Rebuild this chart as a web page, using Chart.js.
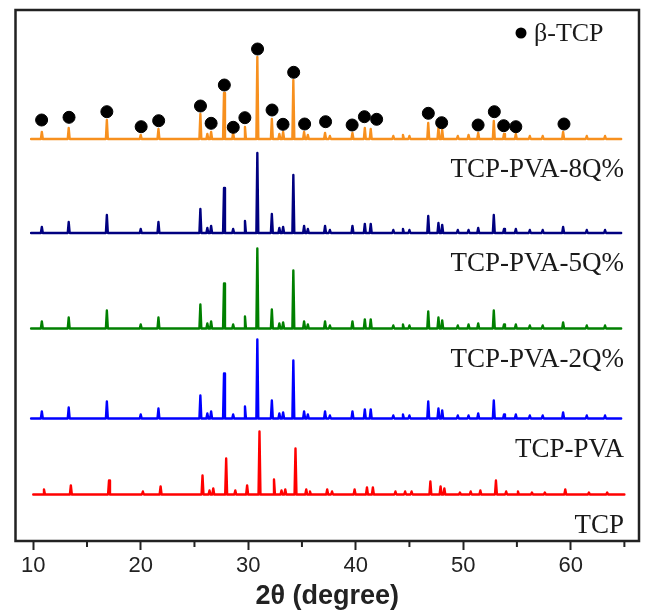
<!DOCTYPE html>
<html>
<head>
<meta charset="utf-8">
<title>XRD TCP-PVA</title>
<script src="https://cdn.jsdelivr.net/npm/chart.js@4.4.0/dist/chart.umd.min.js"></script>
<style>
    html, body { margin: 0; padding: 0; background: #ffffff; }
    canvas { display: block; }
</style>
</head>
<body>
<canvas id="xrdChart" width="646" height="615"></canvas>
<script>
const peakPos = [10.8, 13.3, 16.85, 20.0, 21.65, 25.55, 26.2, 26.55, 27.75, 28.6,
    29.7, 30.85, 32.2, 32.9, 33.25, 34.2, 35.2, 35.55, 37.15, 37.6,
    39.7, 40.85, 41.4, 43.5, 44.4, 45.0, 46.75, 47.7, 48.05, 49.5,
    50.5, 51.4, 52.85, 53.8, 54.9, 56.2, 57.4, 59.3, 61.5, 63.2];

// El TCP puro aparece algo desplazado hacia la derecha
const tcpPeakPos = [11.0, 13.5, 17.05, 20.2, 21.85, 25.75, 26.4, 26.75, 27.95, 28.8,
    29.9, 31.05, 32.4, 33.1, 33.45, 34.4, 35.4, 35.75, 37.35, 37.8,
    39.9, 41.05, 41.6, 43.7, 44.6, 45.2, 46.95, 47.9, 48.25, 49.7,
    50.7, 51.6, 53.05, 54.0, 55.1, 56.4, 57.6, 59.5, 61.7, 63.4];

// Alturas de pico (u.a.) por muestra
const h8Q  = [7, 11, 19, 4, 10, 25, 5, 7, 46, 6, 12, 82, 20, 5, 7, 59, 7, 4, 6, 3,
    6, 11, 10, 3, 4, 3, 16, 11, 9, 3, 4, 6, 18, 5, 5, 3, 3, 7, 3, 3];
const h5Q  = [6, 11, 18, 4, 11, 24, 5, 7, 45, 4, 12, 80, 19, 5, 6, 58, 7, 4, 7, 3,
    7, 9, 9, 3, 4, 3, 17, 10, 8, 3, 3, 5, 18, 4, 4, 3, 3, 6, 3, 3];
const h2Q  = [7, 11, 18, 4, 11, 24, 5, 7, 45, 4, 12, 80, 19, 5, 6, 58, 7, 4, 7, 3,
    7, 9, 9, 3, 4, 3, 17, 11, 8, 3, 4, 5, 18, 4, 4, 3, 3, 6, 3, 3];
const hPVA = [7, 11, 17, 4, 10, 23, 5, 7, 45, 4, 12, 79, 18, 5, 6, 58, 7, 4, 7, 3,
    7, 9, 9, 3, 4, 3, 17, 10, 8, 3, 3, 5, 18, 4, 4, 3, 3, 6, 3, 3];
const hTCP = [5, 9, 14, 3, 8, 19, 4, 6, 36, 4, 9, 63, 15, 4, 5, 46, 5, 3, 5, 3,
    5, 7, 7, 3, 3, 3, 13, 8, 6, 2, 3, 4, 14, 3, 3, 2, 2, 5, 2, 2];

const seriesNames = ["TCP-PVA-8Q%", "TCP-PVA-5Q%", "TCP-PVA-2Q%", "TCP-PVA", "TCP"];
const seriesColors = ["#f7901e", "#000080", "#008000", "#0000ff", "#ff0000"];
const baselines = [402, 308, 212.5, 122.5, 46.5];   // desplazamiento vertical de cada curva
const scanStart = [9.8, 9.8, 9.8, 9.8, 10.0];
const scanEnd = [64.7, 64.7, 64.7, 64.7, 65.0];

// Marcadores de β-TCP sobre la curva superior
const betaPos = [10.78, 13.33, 16.85, 20.04, 21.67, 25.56, 26.55, 27.78, 28.61, 29.69,
    30.87, 32.22, 33.24, 34.23, 35.25, 37.2, 39.67, 40.81, 41.95, 46.76,
    48.0, 51.39, 52.9, 53.77, 54.9, 59.38];
const betaY = [421, 423.7, 429.3, 414.3, 420.3, 435, 417.7, 456, 413.7, 423.3,
    492, 431, 416.7, 468.7, 417, 419.3, 416, 424.3, 421.7, 427.7,
    418.3, 416, 429.3, 415.3, 414.3, 417];

const xTicks = [10, 20, 30, 40, 50, 60];
const xMinorTicks = [15, 25, 35, 45, 55, 65];

document.addEventListener("DOMContentLoaded", function () {
    // Construye la curva: línea base + pico estrecho en cada posición
    function buildTrace(pos, heights, base, start, end) {
        const pts = [{ x: start, y: base }];
        pos.forEach((p, i) => {
            pts.push({ x: p - 0.09, y: base });
            pts.push({ x: p, y: base + heights[i] });
            pts.push({ x: p + 0.09, y: base });
        });
        pts.push({ x: end, y: base });
        return pts;
    }

    const allHeights = [h8Q, h5Q, h2Q, hPVA, hTCP];
    const allPos = [peakPos, peakPos, peakPos, peakPos, tcpPeakPos];

    const lineSets = seriesNames.map((name, i) => ({
        type: "line",
        label: name,
        data: buildTrace(allPos[i], allHeights[i], baselines[i], scanStart[i], scanEnd[i]),
        borderColor: seriesColors[i],
        borderWidth: 2.4,
        borderJoinStyle: "round",
        borderCapStyle: "round",
        pointRadius: 0,
        tension: 0,
        fill: false
    }));

    const dotSet = {
        type: "scatter",
        label: "β-TCP",
        data: betaPos.map((x, i) => ({ x: x, y: betaY[i] })),
        backgroundColor: "#000000",
        borderColor: "#000000",
        pointRadius: 6,
        showLine: false
    };

    // Marco, marcas menores, etiquetas de las curvas y leyenda
    const decorPlugin = {
        id: "decor",
        afterDraw(chart) {
            const { ctx, chartArea, scales } = chart;
            const x = scales.x, y = scales.y;
            ctx.save();
            ctx.strokeStyle = "#222222";
            ctx.lineWidth = 2.5;
            ctx.strokeRect(chartArea.left, chartArea.top,
                chartArea.right - chartArea.left, chartArea.bottom - chartArea.top);

            ctx.lineWidth = 2;
            xMinorTicks.forEach(v => {
                const px = x.getPixelForValue(v);
                ctx.beginPath();
                ctx.moveTo(px, chartArea.bottom);
                ctx.lineTo(px, chartArea.bottom + 6);
                ctx.stroke();
            });

            ctx.fillStyle = "#1a1a1a";
            ctx.font = '27px "Liberation Serif"';
            ctx.textAlign = "right";
            ctx.textBaseline = "alphabetic";
            seriesNames.forEach((name, i) => {
                ctx.fillText(name, 624, y.getPixelForValue(baselines[i]) + 38);
            });

            ctx.beginPath();
            ctx.arc(521, 33, 5.5, 0, Math.PI * 2);
            ctx.fillStyle = "#000000";
            ctx.fill();
            ctx.fillStyle = "#1a1a1a";
            ctx.textAlign = "left";
            ctx.font = '26px "Liberation Serif"';
            ctx.fillText("β-TCP", 534, 41);
            ctx.restore();
        }
    };

    const ctx = document.getElementById("xrdChart").getContext("2d");
    new Chart(ctx, {
        data: { datasets: [dotSet].concat(lineSets) },
        options: {
            responsive: false,
            animation: false,
            layout: { padding: { left: 15.5, right: 4, top: 10, bottom: 0 } },
            plugins: {
                legend: { display: false },
                tooltip: { enabled: false }
            },
            scales: {
                x: {
                    type: "linear",
                    min: 8.35,
                    max: 66.36,
                    afterBuildTicks: scale => { scale.ticks = xTicks.map(v => ({ value: v })); },
                    afterFit: scale => { scale.height = 74; },
                    grid: {
                        drawOnChartArea: false,
                        drawTicks: true,
                        tickLength: 9,
                        tickWidth: 2,
                        tickColor: "#222222"
                    },
                    border: { display: false },
                    ticks: {
                        color: "#222222",
                        padding: 3,
                        font: { family: "Liberation Sans", size: 22 }
                    },
                    title: {
                        display: true,
                        text: "2θ (degree)",
                        color: "#222222",
                        padding: { top: 0, bottom: 2 },
                        font: { family: "Liberation Sans", size: 27, weight: "bold" }
                    }
                },
                y: {
                    display: false,
                    min: 0,
                    max: 531
                }
            }
        },
        plugins: [decorPlugin]
    });
});
</script>
</body>
</html>
